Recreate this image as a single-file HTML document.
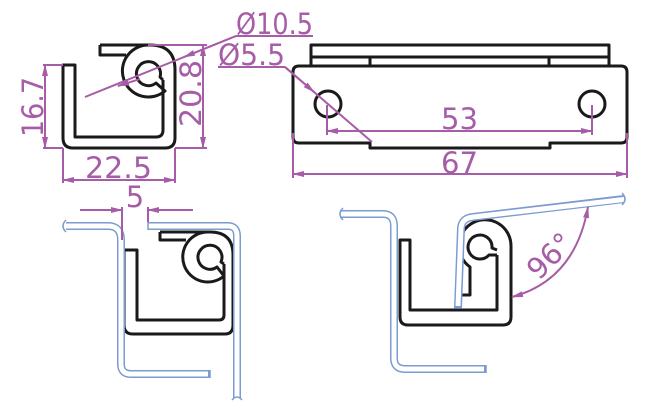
<!DOCTYPE html>
<html><head><meta charset="utf-8"><style>
html,body{margin:0;padding:0;background:#fff;}
svg{display:block;}
text{font-family:"DejaVu Sans","Liberation Sans",sans-serif;fill:#a65ca6;}
</style></head><body>
<svg width="661" height="417" viewBox="0 0 661 417" xmlns="http://www.w3.org/2000/svg">
<defs>
<marker id="a" markerWidth="12" markerHeight="8" refX="11" refY="4" orient="auto-start-reverse" markerUnits="userSpaceOnUse">
<path d="M0,1 L12,4 L0,7 Z" fill="#a65ca6"/></marker>
</defs>
<g fill="none" stroke="#1a1a1a" stroke-width="3" stroke-linejoin="round">
<path d="M100,45 H150 Q175,45 175,70 V138 Q175,148 165,148 H73 Q63,148 63,138 V65 H75 V137 H156 Q163,137 163,130 V80"/>
<path d="M100,45 V55 H126"/>
<path d="M149,45 A26,26 0 1 0 165,91 L156,83 A12,12 0 1 1 160,77 L163,80"/>
<path d="M311,45 H609 V57 H311 Z"/>
<path d="M311,57 V66 M609,57 V66 M370,57 V66 M549,57 V66"/>
<path d="M299,66 H621 Q627,66 627,72 V137 Q627,143 621,143 H550 V148 H370 V143 H299 Q293,143 293,137 V72 Q293,66 299,66 Z"/>
<circle cx="328" cy="104" r="13"/>
<circle cx="592" cy="104" r="13"/>
<path d="M160,232 H210 Q233,232 233,255 V325 Q233,334 225,334 H133 Q124,334 124,325 V250 H137 V320 H219 Q224,320 224,315 V264"/>
<path d="M160,232 V240 H186"/>
<path d="M208,232 A25,25 0 1 0 224,276 L217,267 A12,12 0 1 1 221,262 L224,264"/>
<path d="M511,317 V246 A26,26 0 1 0 470,267 V295 H462"/>
<path d="M511,317 Q511,325 503,325 H408 Q400,325 400,317 V240 H410 V310 H497 V255"/>
<path d="M497,255 L489,255 A12,12 0 1 1 492,248 L497,250"/>
</g>
<g fill="none" stroke-linejoin="round">
<g stroke="#7b9bd1" stroke-width="8">
<path d="M66,226 H108 Q121,226 121,240 V364 Q121,374 131,374 H210"/>
<path d="M148,226 H228 Q237,226 237,236 V398"/>
<path d="M340,214 H383 Q394,214 394,226 V358 Q394,369 405,369 H486"/>
<path d="M458,308 L461,228 Q462,218 473,217 L624,199"/>
</g>
<g stroke="#fff" stroke-width="5">
<path d="M62,226 H108 Q121,226 121,240 V364 Q121,374 131,374 H208"/>
<path d="M148,226 H228 Q237,226 237,236 V402"/>
<path d="M336,214 H383 Q394,214 394,226 V358 Q394,369 405,369 H484"/>
<path d="M458,306 L461,228 Q462,218 473,217 L628,199"/>
</g>
<g stroke="#7b9bd1" stroke-width="1.5">
<path d="M66,220 Q60,226 66,232"/>
<path d="M232,400 Q237,394 242,400"/>
<path d="M343,208 Q337,214 343,220"/>
<path d="M622,193 Q628,199 622,205"/>
<path d="M148,222 V230 M210,370 V378 M486,365 V373 M454,308 H462"/>
</g>
</g>
<g stroke="#a65ca6" stroke-width="2" fill="none">
<path d="M43,65 H63 M43,148 H63 M148,45 H207 M175,148 H207"/>
<path d="M45,65 V148" marker-start="url(#a)" marker-end="url(#a)"/>
<path d="M203,45 V148" marker-start="url(#a)" marker-end="url(#a)"/>
<path d="M63,148 V183 M175,148 V183"/>
<path d="M63,180 H175" marker-start="url(#a)" marker-end="url(#a)"/>
<path d="M236,36 H313 M218,67 H285"/>
<path d="M236,36 L85,97"/>
<path d="M236,36 L184,57" marker-end="url(#a)"/>
<path d="M140,79 L118,86" marker-end="url(#a)"/>
<path d="M285,67 L372,142"/>
<path d="M285,67 L314,92" marker-end="url(#a)"/>
<path d="M327,105 V135 M592,105 V135"/>
<path d="M327,131 H592" marker-start="url(#a)" marker-end="url(#a)"/>
<path d="M293,133 V178 M627,133 V178"/>
<path d="M293,174 H627" marker-start="url(#a)" marker-end="url(#a)"/>
<path d="M122,207 V240 M148,207 V222"/>
<path d="M80,210 H122" marker-end="url(#a)"/>
<path d="M193,210 H148" marker-end="url(#a)"/>
<path d="M512,297 Q575,280 588,207" marker-start="url(#a)" marker-end="url(#a)"/>
</g>
<g font-size="29">
<text x="236" y="34" textLength="77" lengthAdjust="spacingAndGlyphs">Ø10.5</text>
<text x="218" y="65" textLength="67" lengthAdjust="spacingAndGlyphs">Ø5.5</text>
<text x="85" y="178" textLength="67" lengthAdjust="spacingAndGlyphs">22.5</text>
<text x="441" y="129" textLength="37" lengthAdjust="spacingAndGlyphs">53</text>
<text x="441" y="173" textLength="37" lengthAdjust="spacingAndGlyphs">67</text>
<text x="135" y="207" text-anchor="middle">5</text>
<text transform="translate(43,137) rotate(-90)" textLength="60" lengthAdjust="spacingAndGlyphs">16.7</text>
<text transform="translate(201,127) rotate(-90)" textLength="67" lengthAdjust="spacingAndGlyphs">20.8</text>
<text transform="translate(557,263) rotate(-45)" text-anchor="middle">96°</text>
</g>
</svg>
</body></html>
